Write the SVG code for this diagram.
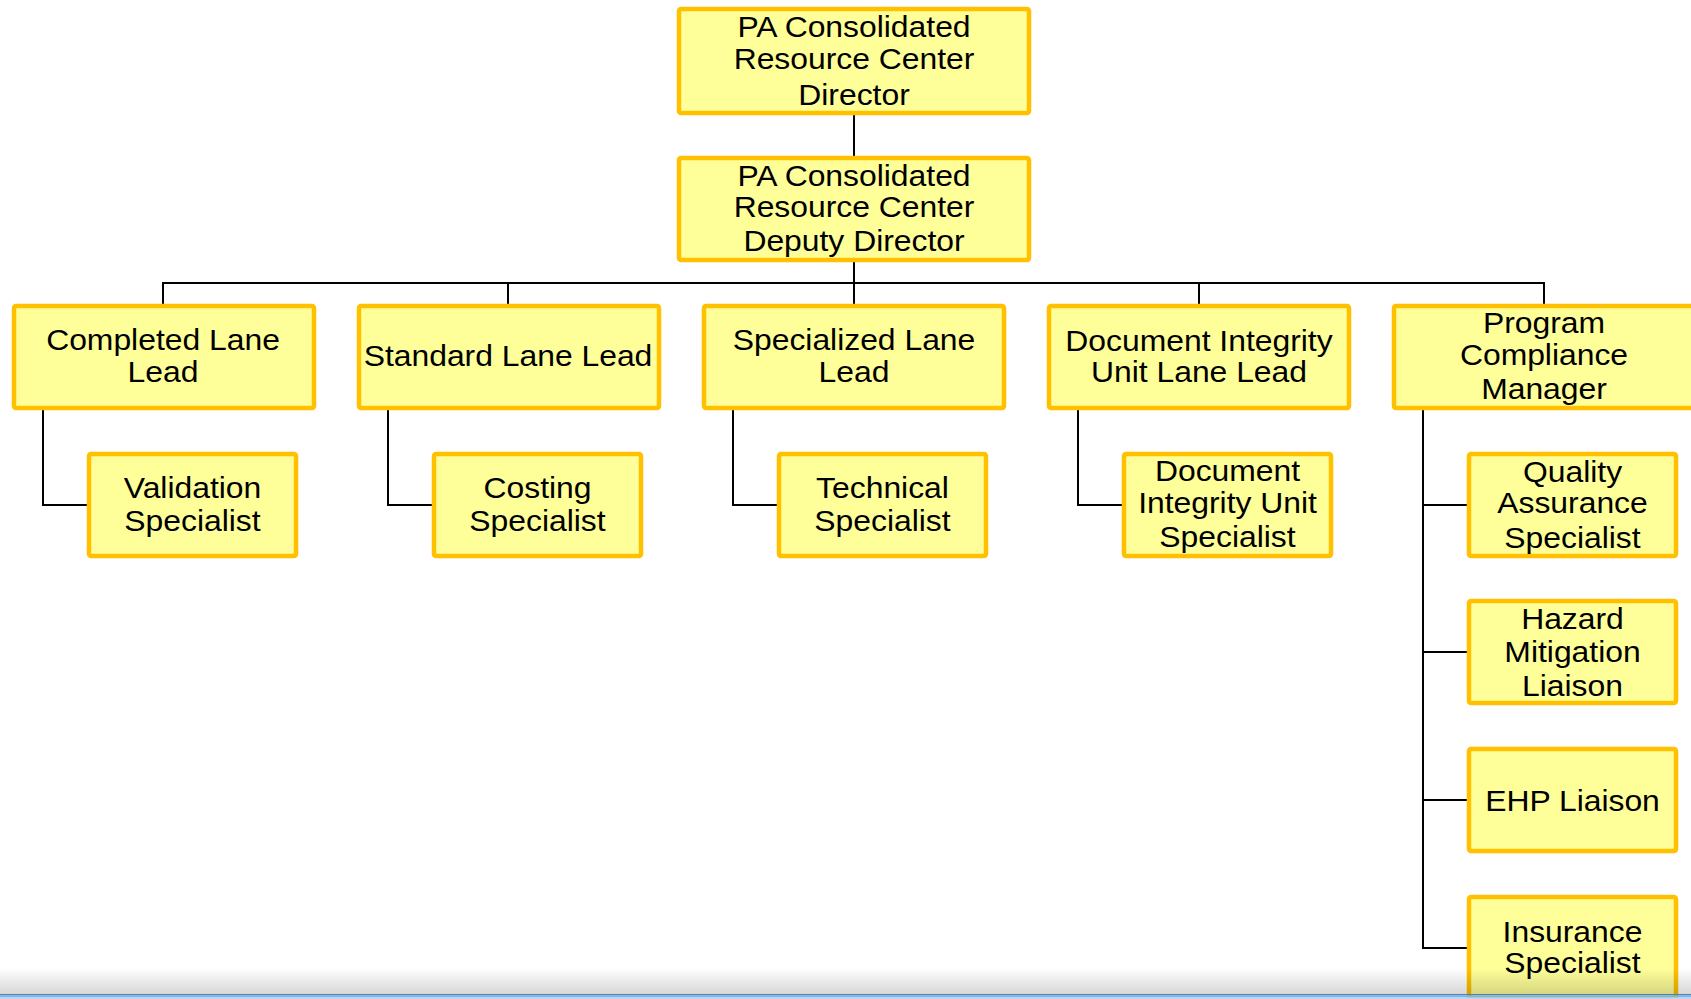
<svg xmlns="http://www.w3.org/2000/svg" width="1691" height="999" viewBox="0 0 1691 999">
<defs>
<style>
.box{fill:#FFFF99;stroke:#FFC000;stroke-width:4.5}
.lbl{font-family:"Liberation Sans",Arial,sans-serif;font-size:29.5px;fill:#000;text-anchor:middle}
.con{fill:none;stroke:#000;stroke-width:2}
</style>
<linearGradient id="shade" x1="0" y1="0" x2="0" y2="1">
<stop offset="0" stop-color="#000" stop-opacity="0"/>
<stop offset="1" stop-color="#000" stop-opacity="0.16"/>
</linearGradient>
</defs>
<rect width="1691" height="999" fill="#fff"/>
<g id="connectors">
<path class="con" d="M854 115V156"/>
<path class="con" d="M854 262V283"/>
<path class="con" d="M163 304V283H1544V304"/>
<path class="con" d="M508 283V304"/>
<path class="con" d="M854 283V304"/>
<path class="con" d="M1199 283V304"/>
<path class="con" d="M43 410V505H87"/>
<path class="con" d="M388 410V505H432"/>
<path class="con" d="M733 410V505H777"/>
<path class="con" d="M1078 410V505H1122"/>
<path class="con" d="M1423 410V948H1467M1423 505H1467M1423 652H1467M1423 800H1467"/>
</g>
<g id="director">
<rect class="box" x="679" y="9" width="350" height="104" rx="2"/>
<text class="lbl" transform="translate(854 0) scale(1.08 1)"><tspan x="0" y="37">PA Consolidated</tspan><tspan x="0" y="69">Resource Center</tspan><tspan x="0" y="105">Director</tspan></text>
</g>
<g id="deputy">
<rect class="box" x="679" y="158" width="350" height="102" rx="2"/>
<text class="lbl" transform="translate(854 0) scale(1.08 1)"><tspan x="0" y="186">PA Consolidated</tspan><tspan x="0" y="217">Resource Center</tspan><tspan x="0" y="251">Deputy Director</tspan></text>
</g>
<g id="completed">
<rect class="box" x="14" y="306" width="300" height="102" rx="2"/>
<text class="lbl" transform="translate(163 0) scale(1.08 1)"><tspan x="0" y="350">Completed Lane</tspan><tspan x="0" y="382">Lead</tspan></text>
</g>
<g id="standard">
<rect class="box" x="359" y="306" width="300" height="102" rx="2"/>
<text class="lbl" transform="translate(508 0) scale(1.08 1)"><tspan x="0" y="366">Standard Lane Lead</tspan></text>
</g>
<g id="specialized">
<rect class="box" x="704" y="306" width="300" height="102" rx="2"/>
<text class="lbl" transform="translate(854 0) scale(1.08 1)"><tspan x="0" y="350">Specialized Lane</tspan><tspan x="0" y="382">Lead</tspan></text>
</g>
<g id="docintegrity">
<rect class="box" x="1049" y="306" width="300" height="102" rx="2"/>
<text class="lbl" transform="translate(1199 0) scale(1.08 1)"><tspan x="0" y="351">Document Integrity</tspan><tspan x="0" y="382">Unit Lane Lead</tspan></text>
</g>
<g id="compliance">
<rect class="box" x="1394" y="306" width="300" height="102" rx="2"/>
<text class="lbl" transform="translate(1544 0) scale(1.08 1)"><tspan x="0" y="333">Program</tspan><tspan x="0" y="365">Compliance</tspan><tspan x="0" y="399">Manager</tspan></text>
</g>
<g id="validation">
<rect class="box" x="89" y="454" width="207" height="102" rx="2"/>
<text class="lbl" transform="translate(192.5 0) scale(1.08 1)"><tspan x="0" y="498">Validation</tspan><tspan x="0" y="531">Specialist</tspan></text>
</g>
<g id="costing">
<rect class="box" x="434" y="454" width="207" height="102" rx="2"/>
<text class="lbl" transform="translate(537.5 0) scale(1.08 1)"><tspan x="0" y="498">Costing</tspan><tspan x="0" y="531">Specialist</tspan></text>
</g>
<g id="technical">
<rect class="box" x="779" y="454" width="207" height="102" rx="2"/>
<text class="lbl" transform="translate(882.5 0) scale(1.08 1)"><tspan x="0" y="498">Technical</tspan><tspan x="0" y="531">Specialist</tspan></text>
</g>
<g id="docspecialist">
<rect class="box" x="1124" y="454" width="207" height="102" rx="2"/>
<text class="lbl" transform="translate(1227.5 0) scale(1.08 1)"><tspan x="0" y="481">Document</tspan><tspan x="0" y="513">Integrity Unit</tspan><tspan x="0" y="547">Specialist</tspan></text>
</g>
<g id="quality">
<rect class="box" x="1469" y="454" width="207" height="102" rx="2"/>
<text class="lbl" transform="translate(1572.5 0) scale(1.08 1)"><tspan x="0" y="482">Quality</tspan><tspan x="0" y="513">Assurance</tspan><tspan x="0" y="548">Specialist</tspan></text>
</g>
<g id="hazard">
<rect class="box" x="1469" y="601" width="207" height="102" rx="2"/>
<text class="lbl" transform="translate(1572.5 0) scale(1.08 1)"><tspan x="0" y="629">Hazard</tspan><tspan x="0" y="662">Mitigation</tspan><tspan x="0" y="696">Liaison</tspan></text>
</g>
<g id="ehp">
<rect class="box" x="1469" y="749" width="207" height="102" rx="2"/>
<text class="lbl" transform="translate(1572.5 0) scale(1.08 1)"><tspan x="0" y="811">EHP Liaison</tspan></text>
</g>
<g id="insurance">
<rect class="box" x="1469" y="897" width="207" height="102" rx="2"/>
<text class="lbl" transform="translate(1572.5 0) scale(1.08 1)"><tspan x="0" y="942">Insurance</tspan><tspan x="0" y="973">Specialist</tspan></text>
</g>
<rect x="0" y="968" width="1691" height="26" fill="url(#shade)"/>
<rect x="0" y="994" width="1691" height="1.5" fill="#4f7fb8"/>
<rect x="0" y="995.5" width="1691" height="2" fill="#7fb3e8"/>
<rect x="0" y="997.5" width="1691" height="1.5" fill="#b9d6f2"/>
</svg>
